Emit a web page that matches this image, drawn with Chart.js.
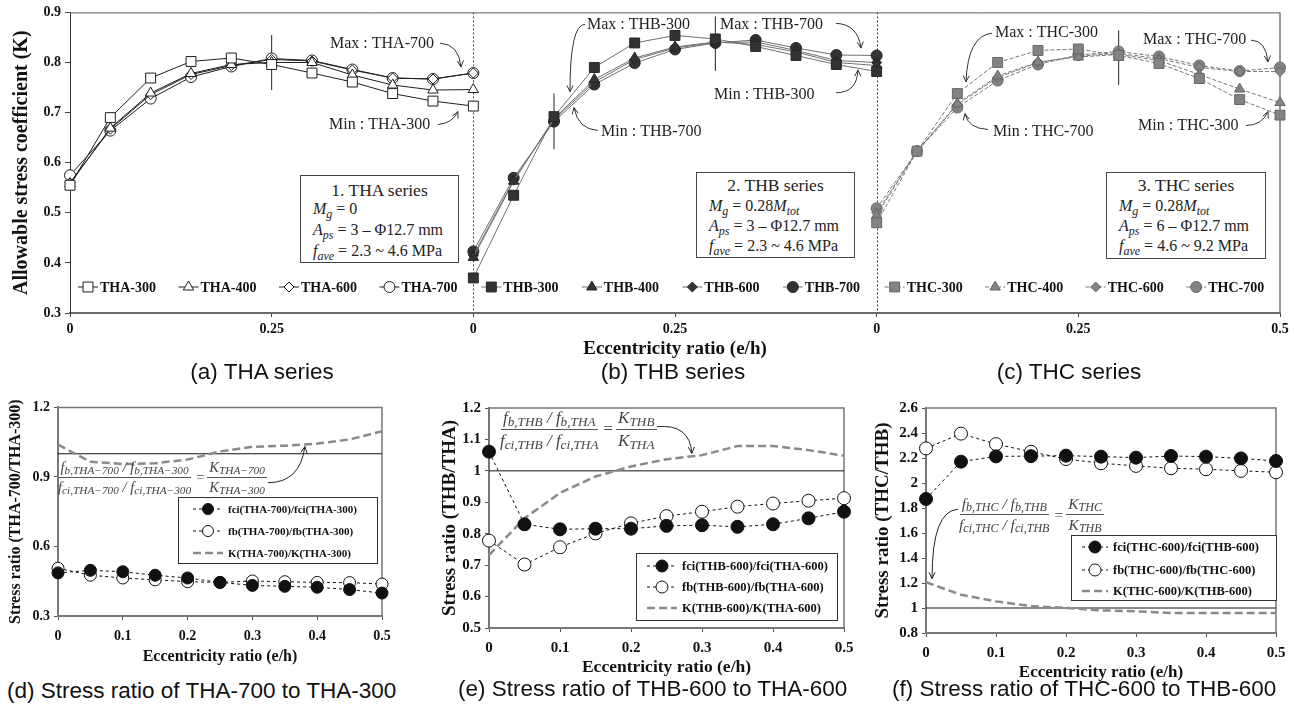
<!DOCTYPE html>
<html><head><meta charset="utf-8"><title>Allowable stress coefficient and stress ratios</title>
<script src="https://cdn.jsdelivr.net/npm/chart.js@4.4.1/dist/chart.umd.min.js"></script>
<style>
html,body{margin:0;padding:0;background:#fff;}
#stage{position:relative;width:1294px;height:713px;overflow:hidden;background:#fff;}
canvas{position:absolute;}
.ibox{position:absolute;border:1px solid #444;background:#fff;box-sizing:border-box;font-family:"Liberation Serif","Times New Roman",serif;color:#222;}
.ibox div{position:absolute;white-space:nowrap;line-height:1;font-size:16px;left:12px;}
.ibox .t{left:0;right:0;text-align:center;font-size:17.5px;}
.ibox sub{font-size:12px;vertical-align:-4px;line-height:0;}
.cap{position:absolute;font-family:"Liberation Sans",Arial,sans-serif;font-size:22.5px;color:#111;white-space:nowrap;line-height:1;}
.fx{position:absolute;display:flex;align-items:center;font-family:"Liberation Serif","Times New Roman",serif;font-style:italic;color:#444;white-space:nowrap;line-height:1.05;}
.fr{display:inline-flex;flex-direction:column;align-items:center;}
.nu{padding:0 2px 2px;border-bottom:1px solid #555;}
.de{padding:2px 2px 0;}
.fx sub{font-size:0.78em;vertical-align:-0.2em;line-height:0;}
.eq{font-style:normal;margin:0 3px;}
</style></head>
<body>
<div id="stage">
<canvas id="cTop" width="1294" height="362" style="left:0;top:0;width:1294px;height:362px"></canvas>
<canvas id="cD" width="430" height="275" style="left:0;top:395px;width:430px;height:275px"></canvas>
<canvas id="cE" width="440" height="283" style="left:430px;top:395px;width:440px;height:283px"></canvas>
<canvas id="cF" width="424" height="290" style="left:870px;top:395px;width:424px;height:290px"></canvas>

<div class="ibox" style="left:300px;top:175px;width:159px;height:88px">
 <div class="t" style="top:6px">1. THA series</div>
 <div style="top:25px"><i>M</i><sub><i>g</i></sub> = 0</div>
 <div style="top:46px"><i>A</i><sub><i>ps</i></sub> = 3 – Φ12.7 mm</div>
 <div style="top:67px"><i>f</i><sub><i>ave</i></sub> = 2.3 ~ 4.6 MPa</div>
</div>
<div class="ibox" style="left:696px;top:172px;width:159px;height:86px">
 <div class="t" style="top:4px">2. THB series</div>
 <div style="top:25px"><i>M</i><sub><i>g</i></sub> = 0.28<i>M</i><sub><i>tot</i></sub></div>
 <div style="top:45px"><i>A</i><sub><i>ps</i></sub> = 3 – Φ12.7 mm</div>
 <div style="top:65px"><i>f</i><sub><i>ave</i></sub> = 2.3 ~ 4.6 MPa</div>
</div>
<div class="ibox" style="left:1106px;top:172px;width:160px;height:87px">
 <div class="t" style="top:4px">3. THC series</div>
 <div style="top:25px"><i>M</i><sub><i>g</i></sub> = 0.28<i>M</i><sub><i>tot</i></sub></div>
 <div style="top:45px"><i>A</i><sub><i>ps</i></sub> = 6 – Φ12.7 mm</div>
 <div style="top:65px"><i>f</i><sub><i>ave</i></sub> = 4.6 ~ 9.2 MPa</div>
</div>

<div class="cap" style="left:262px;top:361px;transform:translateX(-50%)">(a) THA series</div>
<div class="cap" style="left:673px;top:361px;transform:translateX(-50%)">(b) THB series</div>
<div class="cap" style="left:1069px;top:361px;transform:translateX(-50%)">(c) THC series</div>
<div class="cap" style="left:7px;top:680px">(d) Stress ratio of THA-700 to THA-300</div>
<div class="cap" style="left:458px;top:678px">(e) Stress ratio of THB-600 to THA-600</div>
<div class="cap" style="left:892px;top:678px">(f) Stress ratio of THC-600 to THB-600</div>

<div class="fx" style="left:56px;top:460px;font-size:14.5px">
 <span class="fr"><span class="nu"><i>f</i><sub>b,THA−700</sub> / <i>f</i><sub>b,THA−300</sub></span><span class="de"><i>f</i><sub>ci,THA−700</sub> / <i>f</i><sub>ci,THA−300</sub></span></span>
 <span class="eq">=</span>
 <span class="fr"><span class="nu"><i>K</i><sub>THA−700</sub></span><span class="de"><i>K</i><sub>THA−300</sub></span></span>
</div>
<div class="fx" style="left:498px;top:409px;font-size:17px">
 <span class="fr"><span class="nu"><i>f</i><sub>b,THB</sub> / <i>f</i><sub>b,THA</sub></span><span class="de"><i>f</i><sub>ci,THB</sub> / <i>f</i><sub>ci,THA</sub></span></span>
 <span class="eq">=</span>
 <span class="fr"><span class="nu"><i>K</i><sub>THB</sub></span><span class="de"><i>K</i><sub>THA</sub></span></span>
</div>
<div class="fx" style="left:957px;top:496px;font-size:15.5px">
 <span class="fr"><span class="nu"><i>f</i><sub>b,THC</sub> / <i>f</i><sub>b,THB</sub></span><span class="de"><i>f</i><sub>ci,THC</sub> / <i>f</i><sub>ci,THB</sub></span></span>
 <span class="eq">=</span>
 <span class="fr"><span class="nu"><i>K</i><sub>THC</sub></span><span class="de"><i>K</i><sub>THB</sub></span></span>
</div>
</div>

<script>
const SERIF = '"Liberation Serif", "Times New Roman", serif';

// ---------- data: top chart ----------
const ecc = [0, 0.05, 0.1, 0.15, 0.2, 0.25, 0.3, 0.35, 0.4, 0.45, 0.5];

const THA_300 = [0.555, 0.690, 0.769, 0.802, 0.809, 0.796, 0.779, 0.761, 0.738, 0.723, 0.713];
const THA_400 = [0.558, 0.669, 0.739, 0.778, 0.796, 0.800, 0.800, 0.775, 0.755, 0.745, 0.746];
const THA_600 = [0.560, 0.667, 0.736, 0.776, 0.794, 0.806, 0.803, 0.785, 0.769, 0.767, 0.779];
const THA_700 = [0.575, 0.664, 0.728, 0.771, 0.792, 0.808, 0.804, 0.786, 0.769, 0.767, 0.779];

const THB_300 = [0.370, 0.535, 0.692, 0.790, 0.839, 0.854, 0.847, 0.832, 0.814, 0.796, 0.782];
const THB_400 = [0.411, 0.563, 0.688, 0.766, 0.809, 0.831, 0.841, 0.836, 0.821, 0.800, 0.794];
const THB_600 = [0.415, 0.565, 0.686, 0.761, 0.806, 0.829, 0.840, 0.841, 0.824, 0.804, 0.800];
const THB_700 = [0.423, 0.570, 0.682, 0.756, 0.799, 0.826, 0.839, 0.845, 0.829, 0.815, 0.814];

const THC_300 = [0.480, 0.623, 0.738, 0.800, 0.824, 0.827, 0.814, 0.798, 0.768, 0.726, 0.695];
const THC_400 = [0.495, 0.623, 0.718, 0.773, 0.801, 0.811, 0.816, 0.804, 0.776, 0.747, 0.720];
const THC_600 = [0.500, 0.623, 0.716, 0.770, 0.800, 0.813, 0.818, 0.808, 0.790, 0.782, 0.782];
const THC_700 = [0.509, 0.623, 0.710, 0.764, 0.796, 0.815, 0.822, 0.812, 0.794, 0.783, 0.790];

const panelStart = { THA: 0, THB: 0.5, THC: 1.0 };
const topXTicks = [0, 0.25, 0.5, 0.75, 1, 1.25, 1.5];
const topXTickLabels = ['0', '0.25', '0', '0.25', '0', '0.25', '0.5'];
const topYTicks = [0.3, 0.4, 0.5, 0.6, 0.7, 0.8, 0.9];
const topYTickLabels = ['0.3', '0.4', '0.5', '0.6', '0.7', '0.8', '0.9'];

// vertical range bars (position on the combined axis, low, high)
const rangeX = [0.25, 0.6, 0.8, 1.3];
const rangeLow = [0.745, 0.627, 0.783, 0.755];
const rangeHigh = [0.855, 0.738, 0.892, 0.864];

// annotations (data coordinates)
const topNoteText = ['Max : THA-700', 'Min : THA-300', 'Max : THB-300', 'Min : THB-700', 'Max : THB-700',
  'Min : THB-300', 'Max : THC-300', 'Min : THC-700', 'Max : THC-700', 'Min : THC-300'];
const topNoteAt = [[0.3223, 0.8366], [0.3211, 0.6762], [0.6409, 0.8762], [0.6583, 0.6624], [0.8058, 0.8762],
  [0.7983, 0.7356], [1.1467, 0.8584], [1.1442, 0.6624], [1.3302, 0.8446], [1.3240, 0.6743]];
const topNoteArrow = [
  [[0.4587, 0.8386], [0.4822, 0.8366], [0.4847, 0.7911]],
  [[0.4562, 0.6762], [0.4736, 0.6782], [0.4810, 0.7020]],
  [[0.6384, 0.8762], [0.6198, 0.8762], [0.6198, 0.7416]],
  [[0.6545, 0.6644], [0.6298, 0.6663], [0.6248, 0.7099]],
  [[0.9496, 0.8782], [0.9769, 0.8762], [0.9806, 0.8287]],
  [[0.9496, 0.7396], [0.9756, 0.7396], [0.9769, 0.7851]],
  [[1.1430, 0.8584], [1.1132, 0.8545], [1.1107, 0.7614]],
  [[1.1380, 0.6663], [1.1132, 0.6683], [1.1095, 0.6980]],
  [[1.4640, 0.8446], [1.4826, 0.8446], [1.4851, 0.8010]],
  [[1.4578, 0.6743], [1.4777, 0.6743], [1.4851, 0.7020]]
];

// ---------- data: ratio charts ----------
const ratioX = [0, 0.1, 0.2, 0.3, 0.4, 0.5];
const ratioXLabels = ['0', '0.1', '0.2', '0.3', '0.4', '0.5'];
const unityX = [0, 0.5];
const unityY = [1, 1];

const dFci = [0.486, 0.497, 0.491, 0.476, 0.464, 0.445, 0.432, 0.428, 0.424, 0.414, 0.399];
const dFb  = [0.506, 0.476, 0.464, 0.456, 0.448, 0.445, 0.451, 0.448, 0.445, 0.444, 0.438];
const dK   = [1.039, 0.965, 0.956, 0.959, 0.975, 1.010, 1.030, 1.035, 1.044, 1.062, 1.097];
const dYTicks = [0.3, 0.6, 0.9, 1.2];
const dYLabels = ['0.3', '0.6', '0.9', '1.2'];
const dNames = ['fci(THA-700)/fci(THA-300)', 'fb(THA-700)/fb(THA-300)', 'K(THA-700)/K(THA-300)'];

const eFci = [1.061, 0.830, 0.814, 0.816, 0.816, 0.825, 0.827, 0.822, 0.830, 0.849, 0.870];
const eFb  = [0.778, 0.702, 0.757, 0.801, 0.833, 0.856, 0.870, 0.886, 0.896, 0.905, 0.913];
const eK   = [0.732, 0.849, 0.930, 0.982, 1.014, 1.037, 1.050, 1.079, 1.079, 1.066, 1.048];
const eYTicks = [0.5, 0.6, 0.7, 0.8, 0.9, 1.0, 1.1, 1.2];
const eYLabels = ['0.5', '0.6', '0.7', '0.8', '0.9', '1', '1.1', '1.2'];
const eNames = ['fci(THB-600)/fci(THA-600)', 'fb(THB-600)/fb(THA-600)', 'K(THB-600)/K(THA-600)'];

const fFci = [1.872, 2.171, 2.213, 2.215, 2.219, 2.211, 2.203, 2.216, 2.211, 2.197, 2.176];
const fFb  = [2.277, 2.395, 2.311, 2.250, 2.192, 2.158, 2.137, 2.118, 2.110, 2.097, 2.086];
const fK   = [1.206, 1.106, 1.053, 1.016, 1.000, 0.981, 0.974, 0.960, 0.960, 0.960, 0.960];
const fYTicks = [0.8, 1.0, 1.2, 1.4, 1.6, 1.8, 2.0, 2.2, 2.4, 2.6];
const fYLabels = ['0.8', '1', '1.2', '1.4', '1.6', '1.8', '2', '2.2', '2.4', '2.6'];
const fNames = ['fci(THC-600)/fci(THB-600)', 'fb(THC-600)/fb(THC-600)', 'K(THC-600)/K(THB-600)'];

const dArrow = [[0.324, 0.875], [0.3735, 0.875], [0.381, 1.031]];
const eArrow = [[0.2364, 1.1406], [0.2829, 1.150], [0.2857, 1.0557]];
const fArrow = [[0.0458, 1.79], [0.0086, 1.78], [0.0086, 1.235]];

// ---------- helpers ----------
function drawArrow(ctx, p0, p1, p2) {
  ctx.beginPath(); ctx.moveTo(p0.x, p0.y); ctx.quadraticCurveTo(p1.x, p1.y, p2.x, p2.y); ctx.stroke();
  const ang = Math.atan2(p2.y - p1.y, p2.x - p1.x), L = 7, a = 0.45;
  ctx.beginPath();
  ctx.moveTo(p2.x - L * Math.cos(ang - a), p2.y - L * Math.sin(ang - a));
  ctx.lineTo(p2.x, p2.y);
  ctx.lineTo(p2.x - L * Math.cos(ang + a), p2.y - L * Math.sin(ang + a));
  ctx.stroke();
}
function toPx(chart, p) { return { x: chart.scales.x.getPixelForValue(p[0]), y: chart.scales.y.getPixelForValue(p[1]) }; }
function marker(ctx, style, r, x, y) {
  if (Chart.helpers && Chart.helpers.drawPoint) {
    Chart.helpers.drawPoint(ctx, { pointStyle: style, radius: r, rotation: 0, borderWidth: 1 }, x, y);
  } else {
    ctx.beginPath(); ctx.arc(x, y, r, 0, Math.PI * 2); ctx.fill(); ctx.stroke();
  }
}

// ---------- top chart ----------
const topSeries = [
  { label: 'THA-300', group: 'THA', slot: 0, values: THA_300 },
  { label: 'THA-400', group: 'THA', slot: 1, values: THA_400 },
  { label: 'THA-600', group: 'THA', slot: 2, values: THA_600 },
  { label: 'THA-700', group: 'THA', slot: 3, values: THA_700 },
  { label: 'THB-300', group: 'THB', slot: 0, values: THB_300 },
  { label: 'THB-400', group: 'THB', slot: 1, values: THB_400 },
  { label: 'THB-600', group: 'THB', slot: 2, values: THB_600 },
  { label: 'THB-700', group: 'THB', slot: 3, values: THB_700 },
  { label: 'THC-300', group: 'THC', slot: 0, values: THC_300 },
  { label: 'THC-400', group: 'THC', slot: 1, values: THC_400 },
  { label: 'THC-600', group: 'THC', slot: 2, values: THC_600 },
  { label: 'THC-700', group: 'THC', slot: 3, values: THC_700 }
];
const groupStyle = {
  THA: { line: '#1e1e1e', dash: [], fill: '#ffffff', edge: '#1e1e1e' },
  THB: { line: '#707070', dash: [], fill: '#333333', edge: '#262626' },
  THC: { line: '#777777', dash: [4, 2], fill: '#838383', edge: '#666666' }
};
const markerShape = ['rect', 'triangle', 'rectRot', 'circle'];
const markerSize = [7, 6, 5, 5.5];

const topDatasets = topSeries.map(s => {
  const st = groupStyle[s.group];
  return {
    label: s.label, panel: panelStart[s.group], slot: s.slot,
    data: ecc.map((e, i) => ({ x: panelStart[s.group] + e, y: s.values[i] })),
    showLine: true, borderColor: st.line, borderWidth: 1, borderDash: st.dash,
    pointStyle: markerShape[s.slot], pointRadius: markerSize[s.slot], pointHoverRadius: markerSize[s.slot],
    pointBackgroundColor: st.fill, pointBorderColor: st.edge, pointBorderWidth: 1, clip: false
  };
});
rangeX.forEach((x, i) => topDatasets.push({
  label: 'range' + i, data: [{ x: x, y: rangeLow[i] }, { x: x, y: rangeHigh[i] }],
  showLine: true, borderColor: '#222', borderWidth: 1, pointRadius: 0, clip: false
}));

const topDeco = {
  id: 'topDeco',
  beforeDatasetsDraw(chart) {
    const ctx = chart.ctx, ca = chart.chartArea, xs = chart.scales.x;
    ctx.save();
    ctx.strokeStyle = '#444'; ctx.lineWidth = 1; ctx.setLineDash([2, 2]);
    [panelStart.THB, panelStart.THC].forEach(v => {
      const px = Math.round(xs.getPixelForValue(v)) + 0.5;
      ctx.beginPath(); ctx.moveTo(px, ca.top); ctx.lineTo(px, ca.bottom); ctx.stroke();
    });
    ctx.setLineDash([]);
    ctx.strokeStyle = '#555';
    ctx.beginPath(); ctx.moveTo(ca.left, ca.top + 0.5); ctx.lineTo(ca.right, ca.top + 0.5); ctx.stroke();
    ctx.strokeStyle = '#777'; ctx.lineWidth = 1.5;
    ctx.beginPath(); ctx.moveTo(ca.right, ca.top); ctx.lineTo(ca.right, ca.bottom); ctx.stroke();
    ctx.restore();
  },
  afterDatasetsDraw(chart) {
    const ctx = chart.ctx, ca = chart.chartArea, xs = chart.scales.x;
    ctx.save();
    // legend
    const ly = ca.bottom - 26;
    chart.data.datasets.forEach(ds => {
      if (ds.slot === undefined) return;
      const cx = xs.getPixelForValue(ds.panel) + 18 + ds.slot * 100.5;
      ctx.strokeStyle = ds.borderColor; ctx.lineWidth = 1; ctx.setLineDash(ds.borderDash || []);
      ctx.beginPath(); ctx.moveTo(cx - 10, ly); ctx.lineTo(cx + 10, ly); ctx.stroke();
      ctx.setLineDash([]);
      ctx.fillStyle = ds.pointBackgroundColor; ctx.strokeStyle = ds.pointBorderColor; ctx.lineWidth = 1;
      marker(ctx, ds.pointStyle, ds.pointRadius, cx, ly);
      ctx.fillStyle = '#111'; ctx.font = 'bold 14px ' + SERIF; ctx.textBaseline = 'middle'; ctx.textAlign = 'left';
      ctx.fillText(ds.label, cx + 12, ly + 1);
    });
    // notes
    ctx.strokeStyle = '#333'; ctx.lineWidth = 1; ctx.setLineDash([]);
    ctx.fillStyle = '#222'; ctx.font = '16px ' + SERIF; ctx.textBaseline = 'middle'; ctx.textAlign = 'left';
    topNoteText.forEach((t, i) => {
      const p = toPx(chart, topNoteAt[i]);
      ctx.fillText(t, p.x, p.y);
      const a = topNoteArrow[i].map(q => toPx(chart, q));
      drawArrow(ctx, a[0], a[1], a[2]);
    });
    ctx.restore();
  }
};

new Chart(document.getElementById('cTop'), {
  type: 'scatter',
  data: { datasets: topDatasets },
  options: {
    responsive: false, animation: false, devicePixelRatio: 1,
    layout: { padding: { left: 0, right: 14, top: 10, bottom: 0 } },
    plugins: { legend: { display: false }, tooltip: { enabled: false } },
    scales: {
      x: {
        type: 'linear', min: 0, max: 1.5,
        afterBuildTicks: s => { s.ticks = topXTicks.map(v => ({ value: v })); },
        afterFit: s => { s.height = 49; },
        ticks: { autoSkip: false, maxRotation: 0, padding: 4, color: '#111',
          font: { family: SERIF, weight: 'bold', size: 14 }, callback: (v, i) => topXTickLabels[i] },
        grid: { drawOnChartArea: false, drawTicks: true, tickLength: 4, color: '#444' },
        border: { color: '#6a6a6a', width: 2 },
        title: { display: true, text: 'Eccentricity ratio (e/h)', color: '#111',
          font: { family: SERIF, weight: 'bold', size: 19 }, padding: { top: 0, bottom: 1.6 } }
      },
      y: {
        min: 0.3, max: 0.9,
        afterBuildTicks: s => { s.ticks = topYTicks.map(v => ({ value: v })); },
        afterFit: s => { s.width = 70; },
        ticks: { padding: 4, color: '#111', font: { family: SERIF, weight: 'bold', size: 14 },
          callback: (v, i) => topYTickLabels[i] },
        grid: { drawOnChartArea: false, drawTicks: true, tickLength: 5, color: '#444' },
        border: { color: '#333', width: 1 },
        title: { display: true, text: 'Allowable stress coefficient (K)', color: '#111',
          font: { family: SERIF, weight: 'bold', size: 20 }, padding: { top: 10, bottom: 0 } }
      }
    }
  },
  plugins: [topDeco]
});

// ---------- ratio charts ----------
function ratioChart(id, d) {
  const datasets = [
    { label: d.names[0], data: ecc.map((e, i) => ({ x: e, y: d.fci[i] })), showLine: true,
      borderColor: '#111', borderWidth: 1, borderDash: [3, 3], pointStyle: 'circle', pointRadius: d.r,
      pointBackgroundColor: '#111', pointBorderColor: '#111', pointBorderWidth: 1, clip: false },
    { label: d.names[1], data: ecc.map((e, i) => ({ x: e, y: d.fb[i] })), showLine: true,
      borderColor: '#111', borderWidth: 1, borderDash: [3, 3], pointStyle: 'circle', pointRadius: d.r,
      pointBackgroundColor: '#fff', pointBorderColor: '#111', pointBorderWidth: 1, clip: false },
    { label: d.names[2], data: ecc.map((e, i) => ({ x: e, y: d.K[i] })), showLine: true,
      borderColor: '#8a8a8a', borderWidth: 2.5, borderDash: [8, 4], pointRadius: 0, clip: false },
    { label: 'unity', data: unityX.map((x, i) => ({ x: x, y: unityY[i] })), showLine: true,
      borderColor: '#111', borderWidth: 1, pointRadius: 0 }
  ];
  const deco = {
    id: 'deco' + id,
    beforeDatasetsDraw(chart) {
      const ctx = chart.ctx, ca = chart.chartArea;
      ctx.save(); ctx.strokeStyle = '#777'; ctx.lineWidth = 1.5;
      ctx.beginPath(); ctx.moveTo(ca.left, ca.top); ctx.lineTo(ca.right, ca.top); ctx.lineTo(ca.right, ca.bottom); ctx.stroke();
      ctx.restore();
    },
    afterDatasetsDraw(chart) {
      const ctx = chart.ctx, L = d.legend;
      ctx.save();
      ctx.fillStyle = '#fff'; ctx.fillRect(L.x, L.y, L.w, L.h);
      ctx.strokeStyle = '#333'; ctx.lineWidth = 1; ctx.strokeRect(L.x + 0.5, L.y + 0.5, L.w, L.h);
      for (let k = 0; k < 3; k++) {
        const ds = chart.data.datasets[k], y = L.rows[k];
        ctx.strokeStyle = ds.borderColor; ctx.lineWidth = ds.borderWidth; ctx.setLineDash(ds.borderDash);
        ctx.beginPath(); ctx.moveTo(L.x0, y); ctx.lineTo(L.x1, y); ctx.stroke();
        ctx.setLineDash([]);
        if (ds.pointRadius > 0) {
          ctx.fillStyle = ds.pointBackgroundColor; ctx.strokeStyle = ds.pointBorderColor; ctx.lineWidth = 1;
          marker(ctx, 'circle', L.r, (L.x0 + L.x1) / 2, y);
        }
        ctx.fillStyle = '#111'; ctx.font = 'bold ' + L.font + 'px ' + SERIF;
        ctx.textBaseline = 'middle'; ctx.textAlign = 'left';
        ctx.fillText(ds.label, L.tx, y + 1);
      }
      ctx.strokeStyle = '#222'; ctx.lineWidth = 1;
      const a = d.arrow.map(q => toPx(chart, q));
      drawArrow(ctx, a[0], a[1], a[2]);
      ctx.restore();
    }
  };
  new Chart(document.getElementById(id), {
    type: 'scatter',
    data: { datasets: datasets },
    options: {
      responsive: false, animation: false, devicePixelRatio: 1,
      layout: { padding: { left: 0, right: d.padRight, top: d.padTop, bottom: 0 } },
      plugins: { legend: { display: false }, tooltip: { enabled: false } },
      scales: {
        x: {
          type: 'linear', min: 0, max: 0.5,
          afterBuildTicks: s => { s.ticks = ratioX.map(v => ({ value: v })); },
          afterFit: s => { s.height = d.xHeight; },
          ticks: { autoSkip: false, maxRotation: 0, padding: d.xTickPad, color: '#111',
            font: { family: SERIF, weight: 'bold', size: d.tick }, callback: (v, i) => ratioXLabels[i] },
          grid: { drawOnChartArea: false, drawTicks: true, tickLength: 4, color: '#555' },
          border: { color: '#777', width: 2 },
          title: { display: true, text: 'Eccentricity ratio (e/h)', color: '#111',
            font: { family: SERIF, weight: 'bold', size: d.xTitle }, padding: { top: 0, bottom: d.xTitlePb } }
        },
        y: {
          min: d.yMin, max: d.yMax,
          afterBuildTicks: s => { s.ticks = d.yTicks.map(v => ({ value: v })); },
          afterFit: s => { s.width = d.yWidth; },
          ticks: { padding: 4, color: '#111', font: { family: SERIF, weight: 'bold', size: d.tick },
            callback: (v, i) => d.yLabels[i] },
          grid: { drawOnChartArea: false, drawTicks: true, tickLength: 4, color: '#555' },
          border: { color: '#777', width: 2 },
          title: { display: true, text: d.yTitleText, color: '#111',
            font: { family: SERIF, weight: 'bold', size: d.yTitle }, padding: { top: d.yTitlePt, bottom: 0 } }
        }
      }
    },
    plugins: [deco]
  });
}

ratioChart('cD', {
  fci: dFci, fb: dFb, K: dK, names: dNames, r: 6, arrow: dArrow,
  yMin: 0.3, yMax: 1.2, yTicks: dYTicks, yLabels: dYLabels, yTitleText: 'Stress ratio (THA-700/THA-300)',
  padRight: 48, padTop: 8, xHeight: 54, yWidth: 58, xTickPad: 7.6, tick: 14,
  xTitle: 16, xTitlePb: 3.4, yTitle: 16, yTitlePt: 6.4,
  legend: { x: 178, y: 102, w: 199, h: 66, rows: [114, 136, 158], x0: 193, x1: 223, tx: 228, font: 11, r: 5.5 }
});
ratioChart('cE', {
  fci: eFci, fb: eFb, K: eK, names: eNames, r: 6.5, arrow: eArrow,
  yMin: 0.5, yMax: 1.2, yTicks: eYTicks, yLabels: eYLabels, yTitleText: 'Stress ratio (THB/THA)',
  padRight: 26, padTop: 9, xHeight: 50, yWidth: 59, xTickPad: 6.7, tick: 15,
  xTitle: 17.5, xTitlePb: 0.5, yTitle: 19, yTitlePt: 9,
  legend: { x: 206, y: 158, w: 201, h: 67, rows: [171, 192, 213], x0: 217, x1: 247, tx: 252, font: 12.5, r: 6 }
});
ratioChart('cF', {
  fci: fFci, fb: fFb, K: fK, names: fNames, r: 6.5, arrow: fArrow,
  yMin: 0.8, yMax: 2.6, yTicks: fYTicks, yLabels: fYLabels, yTitleText: 'Stress ratio (THC/THB)',
  padRight: 18, padTop: 12, xHeight: 52, yWidth: 56, xTickPad: 7.3, tick: 15,
  xTitle: 17, xTitlePb: 1.8, yTitle: 19, yTitlePt: 1.6,
  legend: { x: 201, y: 140, w: 205, h: 65, rows: [152, 175, 196], x0: 212, x1: 238, tx: 243, font: 12.5, r: 6 }
});
</script>
</body></html>
